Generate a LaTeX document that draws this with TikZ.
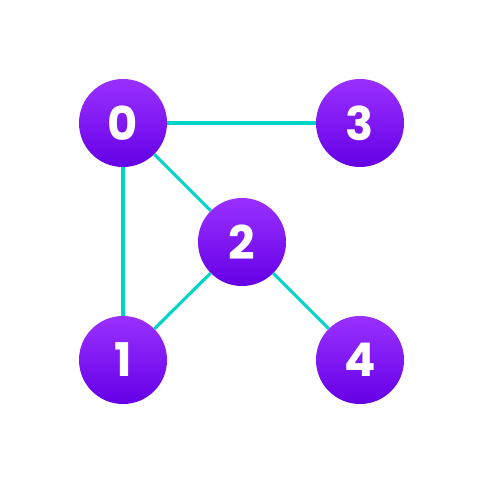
\documentclass[tikz,border=0pt]{standalone}
\usepackage{fontspec}
\newfontfamily\numfont{Poppins}
\usepackage{xcolor}
\usepackage{tikz}
\usetikzlibrary{positioning}
\definecolor{vtxtop}{HTML}{9A30FF}
\definecolor{vtxbot}{HTML}{6500E6}
\definecolor{edgeteal}{HTML}{00D4C6}
\tikzset{
  vtx/.style  = {circle, minimum size=2.2cm, inner sep=0pt, draw=none,
                 top color=vtxtop, bottom color=vtxbot, text=white,
                 font=\numfont\bfseries\fontsize{33}{33}\selectfont},
  link/.style = {edgeteal, line width=2.2pt},
}
\begin{document}
\begin{tikzpicture}[x=0.025cm, y=-0.025cm]
  \useasboundingbox (0,0) rectangle (484,484);
  \node[vtx] (v0) at (123, 123) {0};
  \node[vtx] (v3) at (360, 123) {3};
  \node[vtx] (v2) at (242, 242) {2};
  \node[vtx] (v1) at (123, 360) {1};
  \node[vtx] (v4) at (360, 360) {4};
  \draw[link] (v0) to (v3);
  \draw[link] (v0) to (v2);
  \draw[link] (v0) to (v1);
  \draw[link] (v2) to (v1);
  \draw[link] (v2) to (v4);
\end{tikzpicture}
\end{document}
